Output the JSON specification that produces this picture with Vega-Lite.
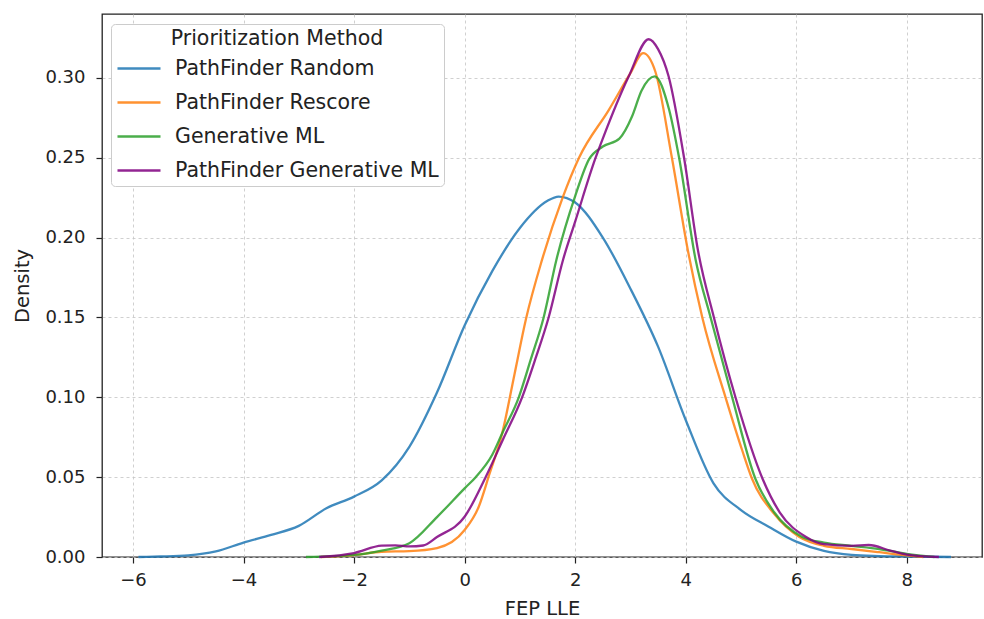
{
  "$schema": "https://vega.github.io/schema/vega-lite/v6.json",
  "autosize": {"type": "none"},
  "width": 880,
  "height": 543,
  "padding": {"left": 102, "top": 14, "right": 2, "bottom": 62},
  "background": "white",
  "config": {
    "font": "DejaVu Sans",
    "view": {"stroke": "#222222", "strokeWidth": 1.3},
    "axis": {
      "labelFont": "DejaVu Sans",
      "titleFont": "DejaVu Sans",
      "labelFontSize": 18,
      "titleFontSize": 19.5,
      "titleFontWeight": "normal",
      "labelColor": "#222222",
      "titleColor": "#222222",
      "domain": false,
      "tickColor": "#222222",
      "tickSize": 6,
      "tickWidth": 1.2,
      "grid": true,
      "gridColor": "#c4c4c4",
      "gridDash": [3, 3],
      "gridWidth": 0.8
    }
  },
  "data": {
    "values": [
      {"m": "PathFinder Random", "x": -5.9, "d": 0.0},
      {"m": "PathFinder Random", "x": -5.5, "d": 0.0003},
      {"m": "PathFinder Random", "x": -5.0, "d": 0.001},
      {"m": "PathFinder Random", "x": -4.5, "d": 0.0035},
      {"m": "PathFinder Random", "x": -4.0, "d": 0.009},
      {"m": "PathFinder Random", "x": -3.5, "d": 0.0138},
      {"m": "PathFinder Random", "x": -3.0, "d": 0.0195},
      {"m": "PathFinder Random", "x": -2.5, "d": 0.0305},
      {"m": "PathFinder Random", "x": -2.0, "d": 0.0378},
      {"m": "PathFinder Random", "x": -1.5, "d": 0.048},
      {"m": "PathFinder Random", "x": -1.0, "d": 0.069},
      {"m": "PathFinder Random", "x": -0.5, "d": 0.103},
      {"m": "PathFinder Random", "x": 0.0, "d": 0.145},
      {"m": "PathFinder Random", "x": 0.5, "d": 0.179},
      {"m": "PathFinder Random", "x": 1.0, "d": 0.206},
      {"m": "PathFinder Random", "x": 1.5, "d": 0.223},
      {"m": "PathFinder Random", "x": 1.7, "d": 0.2257},
      {"m": "PathFinder Random", "x": 2.0, "d": 0.222},
      {"m": "PathFinder Random", "x": 2.5, "d": 0.2},
      {"m": "PathFinder Random", "x": 3.0, "d": 0.168},
      {"m": "PathFinder Random", "x": 3.5, "d": 0.1317},
      {"m": "PathFinder Random", "x": 4.0, "d": 0.0858},
      {"m": "PathFinder Random", "x": 4.5, "d": 0.0463},
      {"m": "PathFinder Random", "x": 5.0, "d": 0.0294},
      {"m": "PathFinder Random", "x": 5.5, "d": 0.019},
      {"m": "PathFinder Random", "x": 6.0, "d": 0.0096},
      {"m": "PathFinder Random", "x": 6.5, "d": 0.0038},
      {"m": "PathFinder Random", "x": 7.0, "d": 0.0013},
      {"m": "PathFinder Random", "x": 7.5, "d": 0.0006},
      {"m": "PathFinder Random", "x": 8.0, "d": 0.0003},
      {"m": "PathFinder Random", "x": 8.8, "d": 0.0},

      {"m": "PathFinder Rescore", "x": -2.6, "d": 0.0},
      {"m": "PathFinder Rescore", "x": -2.0, "d": 0.0012},
      {"m": "PathFinder Rescore", "x": -1.5, "d": 0.0033},
      {"m": "PathFinder Rescore", "x": -1.0, "d": 0.0037},
      {"m": "PathFinder Rescore", "x": -0.5, "d": 0.0056},
      {"m": "PathFinder Rescore", "x": 0.0, "d": 0.0169},
      {"m": "PathFinder Rescore", "x": 0.25, "d": 0.031},
      {"m": "PathFinder Rescore", "x": 0.45, "d": 0.052},
      {"m": "PathFinder Rescore", "x": 0.68, "d": 0.0775},
      {"m": "PathFinder Rescore", "x": 0.9, "d": 0.114},
      {"m": "PathFinder Rescore", "x": 1.11, "d": 0.149},
      {"m": "PathFinder Rescore", "x": 1.4, "d": 0.186},
      {"m": "PathFinder Rescore", "x": 1.77, "d": 0.2247},
      {"m": "PathFinder Rescore", "x": 2.07, "d": 0.25},
      {"m": "PathFinder Rescore", "x": 2.61, "d": 0.28},
      {"m": "PathFinder Rescore", "x": 3.0, "d": 0.303},
      {"m": "PathFinder Rescore", "x": 3.23, "d": 0.3155},
      {"m": "PathFinder Rescore", "x": 3.45, "d": 0.304},
      {"m": "PathFinder Rescore", "x": 3.75, "d": 0.25},
      {"m": "PathFinder Rescore", "x": 4.05, "d": 0.19},
      {"m": "PathFinder Rescore", "x": 4.3, "d": 0.15},
      {"m": "PathFinder Rescore", "x": 4.72, "d": 0.1},
      {"m": "PathFinder Rescore", "x": 5.02, "d": 0.067},
      {"m": "PathFinder Rescore", "x": 5.2, "d": 0.049},
      {"m": "PathFinder Rescore", "x": 5.6, "d": 0.027},
      {"m": "PathFinder Rescore", "x": 6.05, "d": 0.0127},
      {"m": "PathFinder Rescore", "x": 6.5, "d": 0.007},
      {"m": "PathFinder Rescore", "x": 7.0, "d": 0.005},
      {"m": "PathFinder Rescore", "x": 7.5, "d": 0.003},
      {"m": "PathFinder Rescore", "x": 8.0, "d": 0.001},
      {"m": "PathFinder Rescore", "x": 8.3, "d": 0.0},

      {"m": "Generative ML", "x": -2.87, "d": 0.0},
      {"m": "Generative ML", "x": -2.0, "d": 0.0013},
      {"m": "Generative ML", "x": -1.5, "d": 0.004},
      {"m": "Generative ML", "x": -1.0, "d": 0.0086},
      {"m": "Generative ML", "x": -0.5, "d": 0.025},
      {"m": "Generative ML", "x": 0.0, "d": 0.043},
      {"m": "Generative ML", "x": 0.2, "d": 0.05},
      {"m": "Generative ML", "x": 0.5, "d": 0.064},
      {"m": "Generative ML", "x": 0.68, "d": 0.0775},
      {"m": "Generative ML", "x": 0.98, "d": 0.1},
      {"m": "Generative ML", "x": 1.2, "d": 0.124},
      {"m": "Generative ML", "x": 1.43, "d": 0.15},
      {"m": "Generative ML", "x": 1.66, "d": 0.186},
      {"m": "Generative ML", "x": 2.0, "d": 0.226},
      {"m": "Generative ML", "x": 2.25, "d": 0.249},
      {"m": "Generative ML", "x": 2.5, "d": 0.257},
      {"m": "Generative ML", "x": 2.8, "d": 0.262},
      {"m": "Generative ML", "x": 3.03, "d": 0.276},
      {"m": "Generative ML", "x": 3.2, "d": 0.292},
      {"m": "Generative ML", "x": 3.44, "d": 0.301},
      {"m": "Generative ML", "x": 3.7, "d": 0.28},
      {"m": "Generative ML", "x": 3.88, "d": 0.25},
      {"m": "Generative ML", "x": 4.18, "d": 0.186},
      {"m": "Generative ML", "x": 4.45, "d": 0.15},
      {"m": "Generative ML", "x": 4.84, "d": 0.1},
      {"m": "Generative ML", "x": 5.26, "d": 0.049},
      {"m": "Generative ML", "x": 5.6, "d": 0.028},
      {"m": "Generative ML", "x": 6.1, "d": 0.0127},
      {"m": "Generative ML", "x": 6.5, "d": 0.009},
      {"m": "Generative ML", "x": 7.0, "d": 0.007},
      {"m": "Generative ML", "x": 7.5, "d": 0.005},
      {"m": "Generative ML", "x": 8.0, "d": 0.002},
      {"m": "Generative ML", "x": 8.5, "d": 0.0},

      {"m": "PathFinder Generative ML", "x": -2.63, "d": 0.0},
      {"m": "PathFinder Generative ML", "x": -2.0, "d": 0.0025},
      {"m": "PathFinder Generative ML", "x": -1.5, "d": 0.0071},
      {"m": "PathFinder Generative ML", "x": -1.25, "d": 0.0073},
      {"m": "PathFinder Generative ML", "x": -1.0, "d": 0.0066},
      {"m": "PathFinder Generative ML", "x": -0.75, "d": 0.0072},
      {"m": "PathFinder Generative ML", "x": -0.5, "d": 0.0125},
      {"m": "PathFinder Generative ML", "x": 0.0, "d": 0.0252},
      {"m": "PathFinder Generative ML", "x": 0.38, "d": 0.05},
      {"m": "PathFinder Generative ML", "x": 0.7, "d": 0.074},
      {"m": "PathFinder Generative ML", "x": 1.04, "d": 0.1},
      {"m": "PathFinder Generative ML", "x": 1.28, "d": 0.124},
      {"m": "PathFinder Generative ML", "x": 1.52, "d": 0.15},
      {"m": "PathFinder Generative ML", "x": 1.78, "d": 0.186},
      {"m": "PathFinder Generative ML", "x": 2.0, "d": 0.21},
      {"m": "PathFinder Generative ML", "x": 2.37, "d": 0.25},
      {"m": "PathFinder Generative ML", "x": 2.5, "d": 0.262},
      {"m": "PathFinder Generative ML", "x": 2.97, "d": 0.301},
      {"m": "PathFinder Generative ML", "x": 3.33, "d": 0.3242},
      {"m": "PathFinder Generative ML", "x": 3.5, "d": 0.318},
      {"m": "PathFinder Generative ML", "x": 3.69, "d": 0.301},
      {"m": "PathFinder Generative ML", "x": 3.97, "d": 0.25},
      {"m": "PathFinder Generative ML", "x": 4.22, "d": 0.1923},
      {"m": "PathFinder Generative ML", "x": 4.51, "d": 0.15},
      {"m": "PathFinder Generative ML", "x": 4.9, "d": 0.1},
      {"m": "PathFinder Generative ML", "x": 5.39, "d": 0.049},
      {"m": "PathFinder Generative ML", "x": 5.7, "d": 0.028},
      {"m": "PathFinder Generative ML", "x": 6.17, "d": 0.0127},
      {"m": "PathFinder Generative ML", "x": 6.5, "d": 0.008},
      {"m": "PathFinder Generative ML", "x": 7.0, "d": 0.007},
      {"m": "PathFinder Generative ML", "x": 7.31, "d": 0.0075},
      {"m": "PathFinder Generative ML", "x": 7.7, "d": 0.004},
      {"m": "PathFinder Generative ML", "x": 8.0, "d": 0.0015},
      {"m": "PathFinder Generative ML", "x": 8.58, "d": 0.0}
    ]
  },
  "mark": {"type": "line", "interpolate": "monotone", "strokeWidth": 2.3, "opacity": 0.85},
  "encoding": {
    "x": {
      "field": "x",
      "type": "quantitative",
      "title": "FEP LLE",
      "scale": {"domain": [-6.56, 9.36], "nice": false, "zero": false},
      "axis": {"values": [-6, -4, -2, 0, 2, 4, 6, 8], "labelPadding": 8, "titlePadding": 10}
    },
    "y": {
      "field": "d",
      "type": "quantitative",
      "title": "Density",
      "scale": {"domain": [0, 0.34], "nice": false},
      "axis": {"values": [0, 0.05, 0.1, 0.15, 0.2, 0.25, 0.3], "format": ".2f", "labelPadding": 11, "titlePadding": 12}
    },
    "color": {
      "field": "m",
      "type": "nominal",
      "sort": null,
      "scale": {
        "domain": ["PathFinder Random", "PathFinder Rescore", "Generative ML", "PathFinder Generative ML"],
        "range": ["#1f77b4", "#ff7f0e", "#2ca02c", "#800080"]
      },
      "legend": {
        "title": "Prioritization Method",
        "orient": "none",
        "legendX": 9,
        "legendY": 10,
        "titleAnchor": "middle",
        "titleLimit": 0,
        "titleFont": "DejaVu Sans",
        "titleFontSize": 20.5,
        "titleFontWeight": "normal",
        "titleColor": "#222222",
        "titlePadding": -4,
        "labelFont": "DejaVu Sans",
        "labelFontSize": 20.5,
        "labelColor": "#222222",
        "labelLimit": 0,
        "labelOffset": 13,
        "symbolType": "stroke",
        "symbolSize": 1850,
        "symbolStrokeWidth": 2.3,
        "symbolOpacity": 0.85,
        "rowPadding": 0,
        "fillColor": "white",
        "strokeColor": "#cccccc",
        "cornerRadius": 4,
        "padding": 5
      }
    }
  }
}
